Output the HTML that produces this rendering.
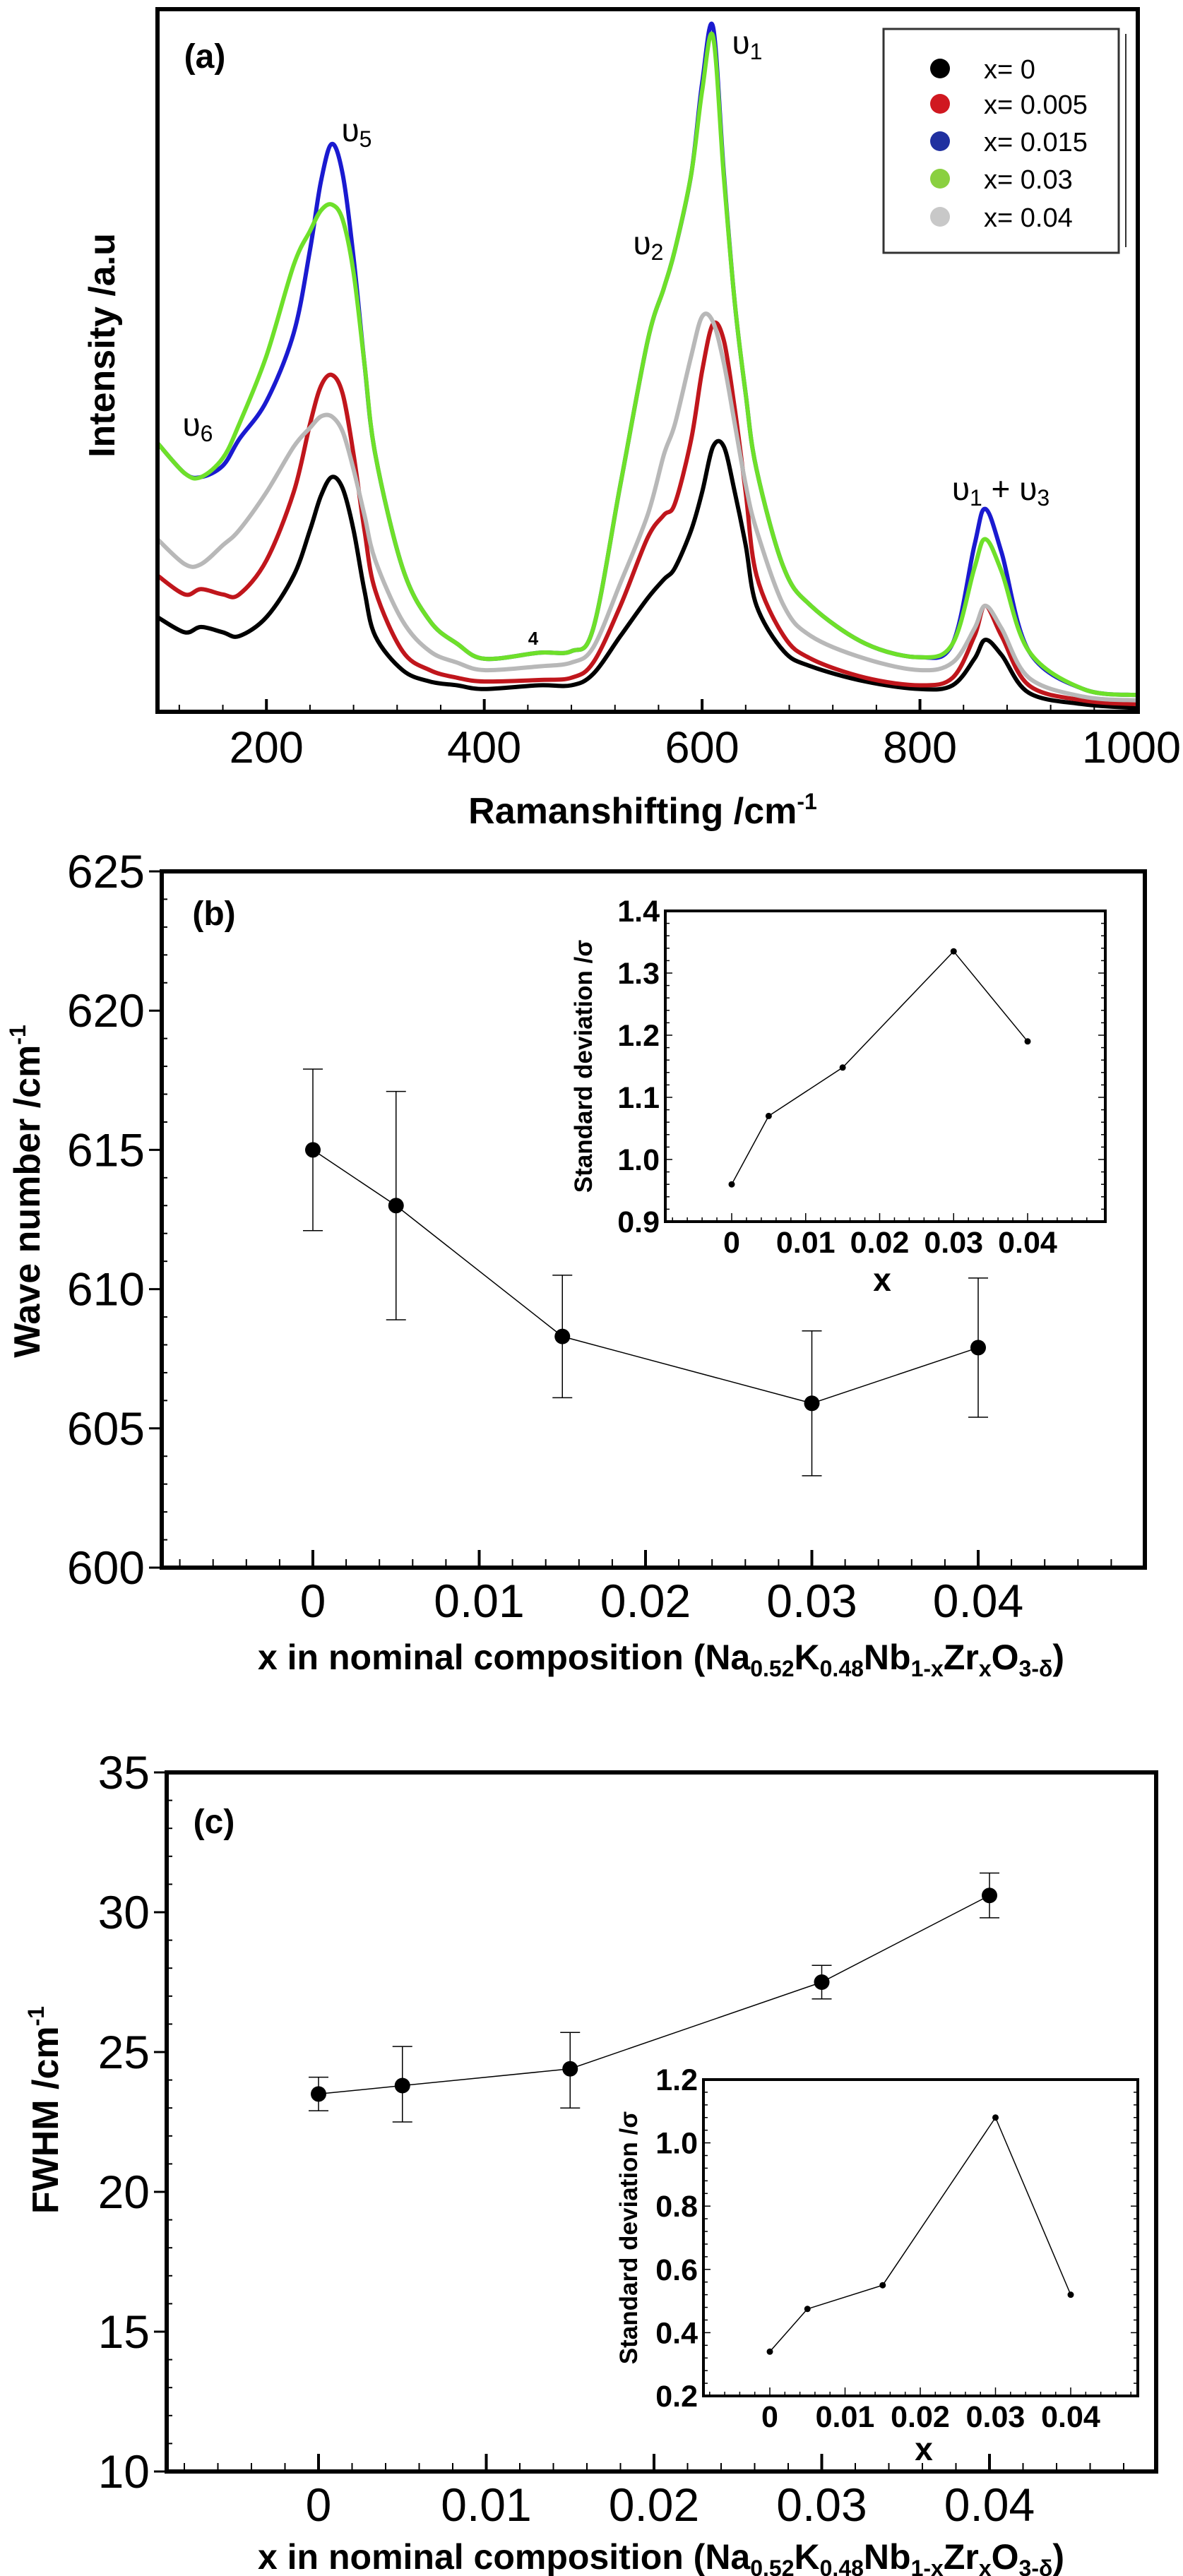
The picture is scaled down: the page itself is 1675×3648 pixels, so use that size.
<!DOCTYPE html>
<html><head><meta charset="utf-8">
<style>
html,body{margin:0;padding:0;background:#fff;}
svg{display:block;font-family:"Liberation Sans",sans-serif;}
</style></head>
<body>
<svg id="fig" width="1675" height="3648" viewBox="0 0 1675 3648" xmlns="http://www.w3.org/2000/svg"></svg>
<script>
// ---------- Panel (a) data ----------
const ramanShift = [100,125,140,160,175,200,225,240,250,260,270,280,290,300,325,350,375,400,450,480,500,525,550,565,575,590,600,610,620,630,640,650,675,700,750,800,830,850,860,875,900,950,1000];
const seriesLabels = ["x= 0","x= 0.005","x= 0.015","x= 0.03","x= 0.04"];
const intensityX0 = [125,105,112,105,100,125,180,240,285,310,295,240,160,100,55,40,35,30,35,35,50,100,150,175,190,240,290,350,350,290,220,140,80,60,40,30,35,70,95,75,25,10,5];
const intensityX0005 = [180,155,162,155,155,200,290,380,430,445,420,340,240,160,80,55,45,40,42,45,65,140,230,260,275,360,450,512,490,400,290,180,100,70,45,35,45,100,140,100,35,15,10];
const intensityX0015 = [355,315,310,325,360,410,500,610,700,750,710,600,460,340,190,120,90,70,78,80,110,300,490,560,610,710,830,905,710,540,420,320,190,140,90,72,90,220,268,210,80,30,22];
const intensityX003 = [355,315,310,335,380,470,590,635,662,670,650,580,460,340,190,120,90,70,78,80,110,300,490,560,610,710,820,892,705,540,420,320,190,140,90,72,90,190,228,185,80,30,22];
const intensityX004 = [228,195,195,220,240,290,350,375,390,390,370,320,260,200,120,80,65,55,60,65,85,170,260,340,380,470,522,515,460,380,300,240,140,100,70,55,65,110,140,110,45,20,15];
const ramanTicks = [200,400,600,800,1000];

// ---------- Panel (b) data ----------
const compX = [0,0.005,0.015,0.03,0.04];
const waveNumber = [615.0,613.0,608.3,605.9,607.9];
const waveLow = [612.1,608.9,606.1,603.3,605.4];
const waveHigh = [617.9,617.1,610.5,608.5,610.4];
const waveTicks = [600,605,610,615,620,625];
const sdWave = [0.96,1.07,1.148,1.335,1.19];
const sdWaveTicks = [0.9,1.0,1.1,1.2,1.3,1.4];

// ---------- Panel (c) data ----------
const fwhm = [23.5,23.8,24.4,27.5,30.6];
const fwhmLow = [22.9,22.5,23.0,26.9,29.8];
const fwhmHigh = [24.1,25.2,25.7,28.1,31.4];
const fwhmTicks = [10,15,20,25,30,35];
const sdFwhm = [0.34,0.475,0.55,1.08,0.52];
const sdFwhmTicks = [0.2,0.4,0.6,0.8,1.0,1.2];
const xTicks = [0,0.01,0.02,0.03,0.04];
const xTickLabels = ["0","0.01","0.02","0.03","0.04"];

const NS="http://www.w3.org/2000/svg";
const svg=document.getElementById('fig');
function mk(tag,attrs,parent){const e=document.createElementNS(NS,tag);for(const k in attrs)e.setAttribute(k,attrs[k]);(parent||svg).appendChild(e);return e;}
function txt(s,x,y,size,opts,parent){opts=opts||{};const t=mk('text',{x:x,y:y,'font-size':size,'text-anchor':opts.anchor||'middle','font-weight':opts.bold?'bold':'normal',fill:'#000'},parent);if(opts.family)t.setAttribute('font-family',opts.family);if(opts.transform)t.setAttribute('transform',opts.transform);t.textContent=s;return t;}
function smooth(pts){let d='M'+pts[0][0]+','+pts[0][1];for(let i=0;i<pts.length-1;i++){const p0=pts[Math.max(0,i-1)],p1=pts[i],p2=pts[i+1],p3=pts[Math.min(pts.length-1,i+2)];const c1x=p1[0]+(p2[0]-p0[0])/6,c1y=p1[1]+(p2[1]-p0[1])/6,c2x=p2[0]-(p3[0]-p1[0])/6,c2y=p2[1]-(p3[1]-p1[1])/6;d+=' C'+c1x.toFixed(1)+','+c1y.toFixed(1)+' '+c2x.toFixed(1)+','+c2y.toFixed(1)+' '+p2[0].toFixed(1)+','+p2[1].toFixed(1);}return d;}

// ================= Panel A =================
(function(){
  const L=223,R=1611,T=13,B=1008;
  const xs=v=>L+(v-100)/900*(R-L);
  const ys=v=>B-v/928*(B-T);
  const g=mk('g',{});
  
  
  const series=[intensityX0,intensityX0005,intensityX004,intensityX0015,intensityX003];
  const colors=['#000000','#c0161c','#b8b8b8','#1a1ad0','#6ee02a'];
  const names=['spectrum-x0','spectrum-x0005','spectrum-x004','spectrum-x0015','spectrum-x003'];
  series.forEach((s,i)=>{
    const pts=ramanShift.map((r,j)=>[xs(r),ys(s[j])]);
    const p=mk('path',{d:smooth(pts),fill:'none',stroke:colors[i],'stroke-width':6,'stroke-linejoin':'round'},g);
    
    
  });
  const fr=mk('rect',{x:L,y:T,width:R-L,height:B-T,fill:'none',stroke:'#000','stroke-width':6},g);
  
  
  for(let v=120;v<1000;v+=40){const x=xs(v);const major=ramanTicks.includes(v);mk('line',{x1:x,y1:B,x2:x,y2:B-(major?18:10),stroke:'#000','stroke-width':major?4:2},g);}
  ramanTicks.forEach(v=>{const t=txt(String(v),Math.min(xs(v),1602),B+72,63,{},g);});
  let t=txt('',910,1166,52,{bold:true},g);t.innerHTML='Ramanshifting /cm<tspan dy="-20" font-size="32">-1</tspan>';
  
  t=txt('Intensity /a.u',162,489,52,{bold:true,transform:'rotate(-90 162 489)'},g);
  
  t=txt('(a)',290,96,48,{bold:true},g);
  const ann=[['υ','5',505,200],['υ','1',1058,76],['υ','2',918,360],['υ','6',280,617]];
  ann.forEach(a=>{const e=txt('',a[2],a[3],46,{},g);e.innerHTML=a[0]+'<tspan dy="8" font-size="32">'+a[1]+'</tspan>';});
  t=txt('',1417,708,46,{},g);t.innerHTML='υ<tspan dy="8" font-size="32">1</tspan><tspan dy="-8"> + υ</tspan><tspan dy="8" font-size="32">3</tspan>';
  
  t=txt('4',755,913,26,{bold:true},g);
  const lg=mk('g',{},g);
  
  
  mk('rect',{x:1251,y:41,width:333,height:317,fill:'#fff',stroke:'#333','stroke-width':3},lg);
  mk('line',{x1:1594,y1:48,x2:1594,y2:350,stroke:'#333','stroke-width':2},lg);
  const legColors=['#000000','#d01820','#2030a0','#8ad040','#c8c8c8'];
  const legY=[97,147,200,253,307];
  seriesLabels.forEach((s,i)=>{
    const e=mk('g',{},lg);
    
    
    mk('circle',{cx:1331,cy:legY[i],r:14,fill:legColors[i]},e);
    txt(s,1393,legY[i]+14,38,{anchor:'start'},e);
  });
})();

// ================= Panels B and C =================
function panel(cfg){
  const g=mk('g',{});
  
  
  const {L,R,T,B}=cfg;
  const xs=v=>cfg.x0px+v/0.04*(cfg.x4px-cfg.x0px);
  const ys=v=>B-(v-cfg.ymin)/(cfg.ymax-cfg.ymin)*(B-T);
  for(let v=cfg.ymin;v<=cfg.ymax+1e-9;v+=1){const y=ys(v);const major=cfg.yTicks.some(t=>Math.abs(t-v)<1e-6);mk('line',{x1:L-(major?18:0),y1:y,x2:L+(major?0:8),y2:y,stroke:'#000','stroke-width':major?3:2},g);}
  for(let v=-0.008;v<=0.0495;v+=0.002){const x=xs(v);const major=Math.abs(Math.round(v*100)-v*100)<1e-6;mk('line',{x1:x,y1:B,x2:x,y2:B-(major?25:12),stroke:'#000','stroke-width':major?4:2},g);}
  cfg.yTicks.forEach(v=>{const t=txt(String(v),L-24,ys(v)+23,66,{anchor:'end'},g);});
  xTicks.forEach((v,i)=>{const t=txt(xTickLabels[i],xs(v),B+70,66,{},g);});
  const fr=mk('rect',{x:L,y:T,width:R-L,height:B-T,fill:'none',stroke:'#000','stroke-width':6},g);
  
  
  const ln=mk('polyline',{points:compX.map((x,i)=>xs(x)+','+ys(cfg.vals[i])).join(' '),fill:'none',stroke:'#000','stroke-width':1.5},g);
  
  compX.forEach((x,i)=>{
    const e=mk('g',{},g);
    
    
    const X=xs(x);
    mk('line',{x1:X,y1:ys(cfg.lo[i]),x2:X,y2:ys(cfg.hi[i]),stroke:'#000','stroke-width':1.5},e);
    mk('line',{x1:X-14,y1:ys(cfg.lo[i]),x2:X+14,y2:ys(cfg.lo[i]),stroke:'#000','stroke-width':1.5},e);
    mk('line',{x1:X-14,y1:ys(cfg.hi[i]),x2:X+14,y2:ys(cfg.hi[i]),stroke:'#000','stroke-width':1.5},e);
    const c=mk('circle',{cx:X,cy:ys(cfg.vals[i]),r:11,fill:'#000'},g);
    
    
  });
  let t=txt(cfg.label,303,cfg.labelY,48,{bold:true},g);
  t=txt('',936,cfg.titleY,50,{bold:true},g);
  t.innerHTML='x in nominal composition (Na<tspan dy="10" font-size="32">0.52</tspan><tspan dy="-10">K</tspan><tspan dy="10" font-size="32">0.48</tspan><tspan dy="-10">Nb</tspan><tspan dy="10" font-size="32">1-x</tspan><tspan dy="-10">Zr</tspan><tspan dy="10" font-size="32">x</tspan><tspan dy="-10">O</tspan><tspan dy="10" font-size="32">3-δ</tspan><tspan dy="-10">)</tspan>';
  
  t=txt('',cfg.ytX,cfg.ytY,52,{bold:true,transform:'rotate(-90 '+cfg.ytX+' '+cfg.ytY+')'},g);
  t.innerHTML=cfg.ytitle+'<tspan dy="-20" font-size="32">-1</tspan>';
  
  const I=cfg.inset;
  const ig=mk('g',{},g);
  
  
  const ixs=v=>I.x0px+v/0.04*(I.x4px-I.x0px);
  const iys=v=>I.B-(v-I.ymin)/(I.ymax-I.ymin)*(I.B-I.T);
  mk('rect',{x:I.L,y:I.T,width:I.R-I.L,height:I.B-I.T,fill:'#fff',stroke:'#000','stroke-width':4},ig);
  const step=(I.ymax-I.ymin)/25;
  for(let k=0;k<=25;k++){const y=iys(I.ymin+k*step);const len=k%5===0?10:6;mk('line',{x1:I.L,y1:y,x2:I.L+len,y2:y,stroke:'#000','stroke-width':1.5},ig);mk('line',{x1:I.R,y1:y,x2:I.R-len,y2:y,stroke:'#000','stroke-width':1.5},ig);}
  for(let v=-0.008;v<=0.05;v+=0.002){const x=ixs(v);if(x<I.L||x>I.R)continue;const major=Math.abs(Math.round(v*100)-v*100)<1e-6;mk('line',{x1:x,y1:I.B,x2:x,y2:I.B-(major?12:6),stroke:'#000','stroke-width':1.5},ig);}
  I.ticks.forEach(v=>{const tt=txt(v.toFixed(1),I.L-8,iys(v)+15,43,{anchor:'end',bold:true,family:'"Liberation Sans Narrow","Liberation Sans",sans-serif'},ig);});
  xTicks.forEach((v,i)=>{const tt=txt(xTickLabels[i],ixs(v),I.B+44,43,{bold:true,family:'"Liberation Sans Narrow","Liberation Sans",sans-serif'},ig);});
  t=txt('x',I.xlabX,I.xlabY,46,{bold:true},ig);
  const cy=(I.T+I.B)/2;
  t=txt('Standard deviation /σ',I.ytX,cy,35,{bold:true,transform:'rotate(-90 '+I.ytX+' '+cy+')'},ig);
  
  const il=mk('polyline',{points:compX.map((x,i)=>ixs(x)+','+iys(I.vals[i])).join(' '),fill:'none',stroke:'#000','stroke-width':1.5},ig);
  
  compX.forEach((x,i)=>{const c=mk('circle',{cx:ixs(x),cy:iys(I.vals[i]),r:4.5,fill:'#000'},ig);});
}

panel({name:'wave-number-panel',L:229,R:1621,T:1234,B:2220,x0px:443,x4px:1385,ymin:600,ymax:625,yTicks:waveTicks,
  vals:waveNumber,lo:waveLow,hi:waveHigh,label:'(b)',labelY:1310,titleY:2364,ytitle:'Wave number /cm',ytX:56,ytY:1687,
  inset:{L:942,R:1565,T:1290,B:1730,x0px:1036,x4px:1455,ymin:0.9,ymax:1.4,ticks:sdWaveTicks,vals:sdWave,xlabX:1249,xlabY:1828,ytX:838}});

panel({name:'fwhm-panel',L:236,R:1637,T:2510,B:3500,x0px:451,x4px:1401,ymin:10,ymax:35,yTicks:fwhmTicks,
  vals:fwhm,lo:fwhmLow,hi:fwhmHigh,label:'(c)',labelY:2596,titleY:3638,ytitle:'FWHM /cm',ytX:82,ytY:2988,
  inset:{L:996,R:1611,T:2945,B:3393,x0px:1090,x4px:1516,ymin:0.2,ymax:1.2,ticks:sdFwhmTicks,vals:sdFwhm,xlabX:1308,xlabY:3484,ytX:902}});
</script>
</body></html>
